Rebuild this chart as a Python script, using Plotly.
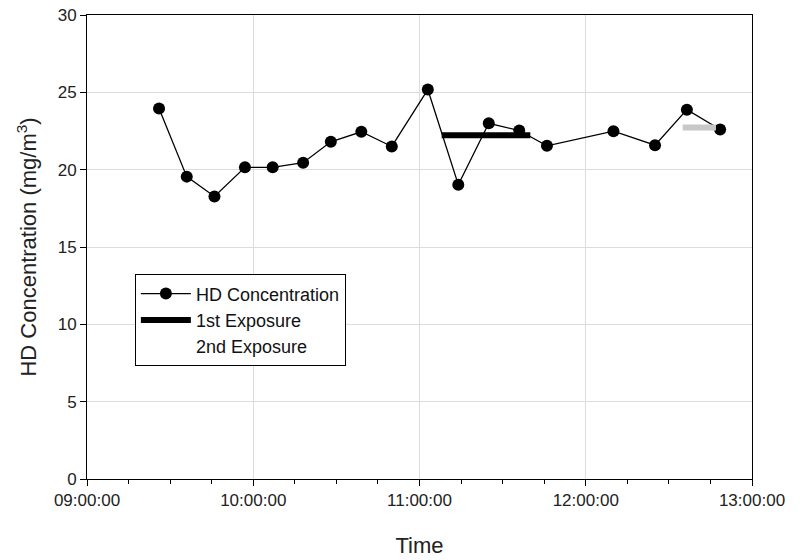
import plotly.graph_objects as go

# Data
times = ["09:26", "09:36", "09:46", "09:57", "10:07", "10:18", "10:28", "10:39", "10:50",
         "11:03", "11:14", "11:25", "11:36", "11:46", "12:10", "12:25", "12:36:30", "12:48:30"]
conc = [23.95, 19.55, 18.27, 20.15, 20.15, 20.45, 21.8, 22.45, 21.5,
        25.18, 19.03, 23.0, 22.53, 21.54, 22.49, 21.58, 23.88, 22.6]

exp1_times = ["11:08", "11:40"]
exp1_vals = [22.23, 22.23]
exp2_times = ["12:35", "12:47"]
exp2_vals = [22.73, 22.73]

day = "2000-01-01 "
def ts(lst):
    return [day + (t if t.count(":") == 2 else t + ":00") for t in lst]

FONT = "Arial, Liberation Sans, sans-serif"

fig = go.Figure()
fig.add_trace(go.Scatter(
    x=ts(times), y=conc, mode="lines+markers", name="HD Concentration",
    line=dict(color="black", width=1.3),
    marker=dict(color="black", size=12),
))
fig.add_trace(go.Scatter(
    x=ts(exp1_times), y=exp1_vals, mode="lines", name="1st Exposure",
    line=dict(color="black", width=6),
))
fig.add_trace(go.Scatter(
    x=ts(exp2_times), y=exp2_vals, mode="lines", name="2nd Exposure",
    line=dict(color="#c8c8c8", width=6), showlegend=False,
))
# legend entry for 2nd exposure (symbol not visible in the reference)
fig.add_trace(go.Scatter(
    x=[None], y=[None], mode="lines", name="2nd Exposure",
    line=dict(color="rgba(0,0,0,0)", width=6),
))

fig.update_layout(
    width=800, height=560,
    margin=dict(l=87, r=48, t=15, b=81),
    paper_bgcolor="white", plot_bgcolor="white",
    font=dict(family=FONT, size=17, color="#222"),
    showlegend=True,
    legend=dict(
        x=0.072, y=0.441, xanchor="left", yanchor="top",
        bordercolor="black", borderwidth=1, bgcolor="white",
        font=dict(size=18, color="#111"),
        tracegroupgap=0, itemwidth=50,
    ),
)
fig.update_xaxes(
    type="date", automargin=False,
    range=[day + "09:00:00", day + "13:00:00"],
    dtick=3600000, tick0=day + "09:00:00",
    tickformat="%H:%M:%S",
    showgrid=True, gridcolor="#dcdcdc", gridwidth=1,
    showline=True, linecolor="black", linewidth=1, mirror=True,
    ticks="outside", ticklen=6, tickcolor="black",
    minor=dict(dtick=900000, ticks="outside", ticklen=4, tickcolor="black", showgrid=False),
    tickfont=dict(size=17),
    title=dict(text="Time", font=dict(size=22), standoff=28),
    zeroline=False,
)
fig.update_yaxes(
    automargin=False,
    range=[0, 30], dtick=5,
    showgrid=True, gridcolor="#dcdcdc", gridwidth=1,
    showline=True, linecolor="black", linewidth=1, mirror=True,
    ticks="outside", ticklen=6, tickcolor="black",
    tickfont=dict(size=17),
    title=dict(text="HD Concentration (mg/m<sup>3</sup>)", font=dict(size=22), standoff=14),
    zeroline=False,
)

# remove the default 8px page margin so the figure sits at the window origin
fig.write_html("out.html", config={"displayModeBar": False},
               post_script="document.body.style.margin='0px';")
